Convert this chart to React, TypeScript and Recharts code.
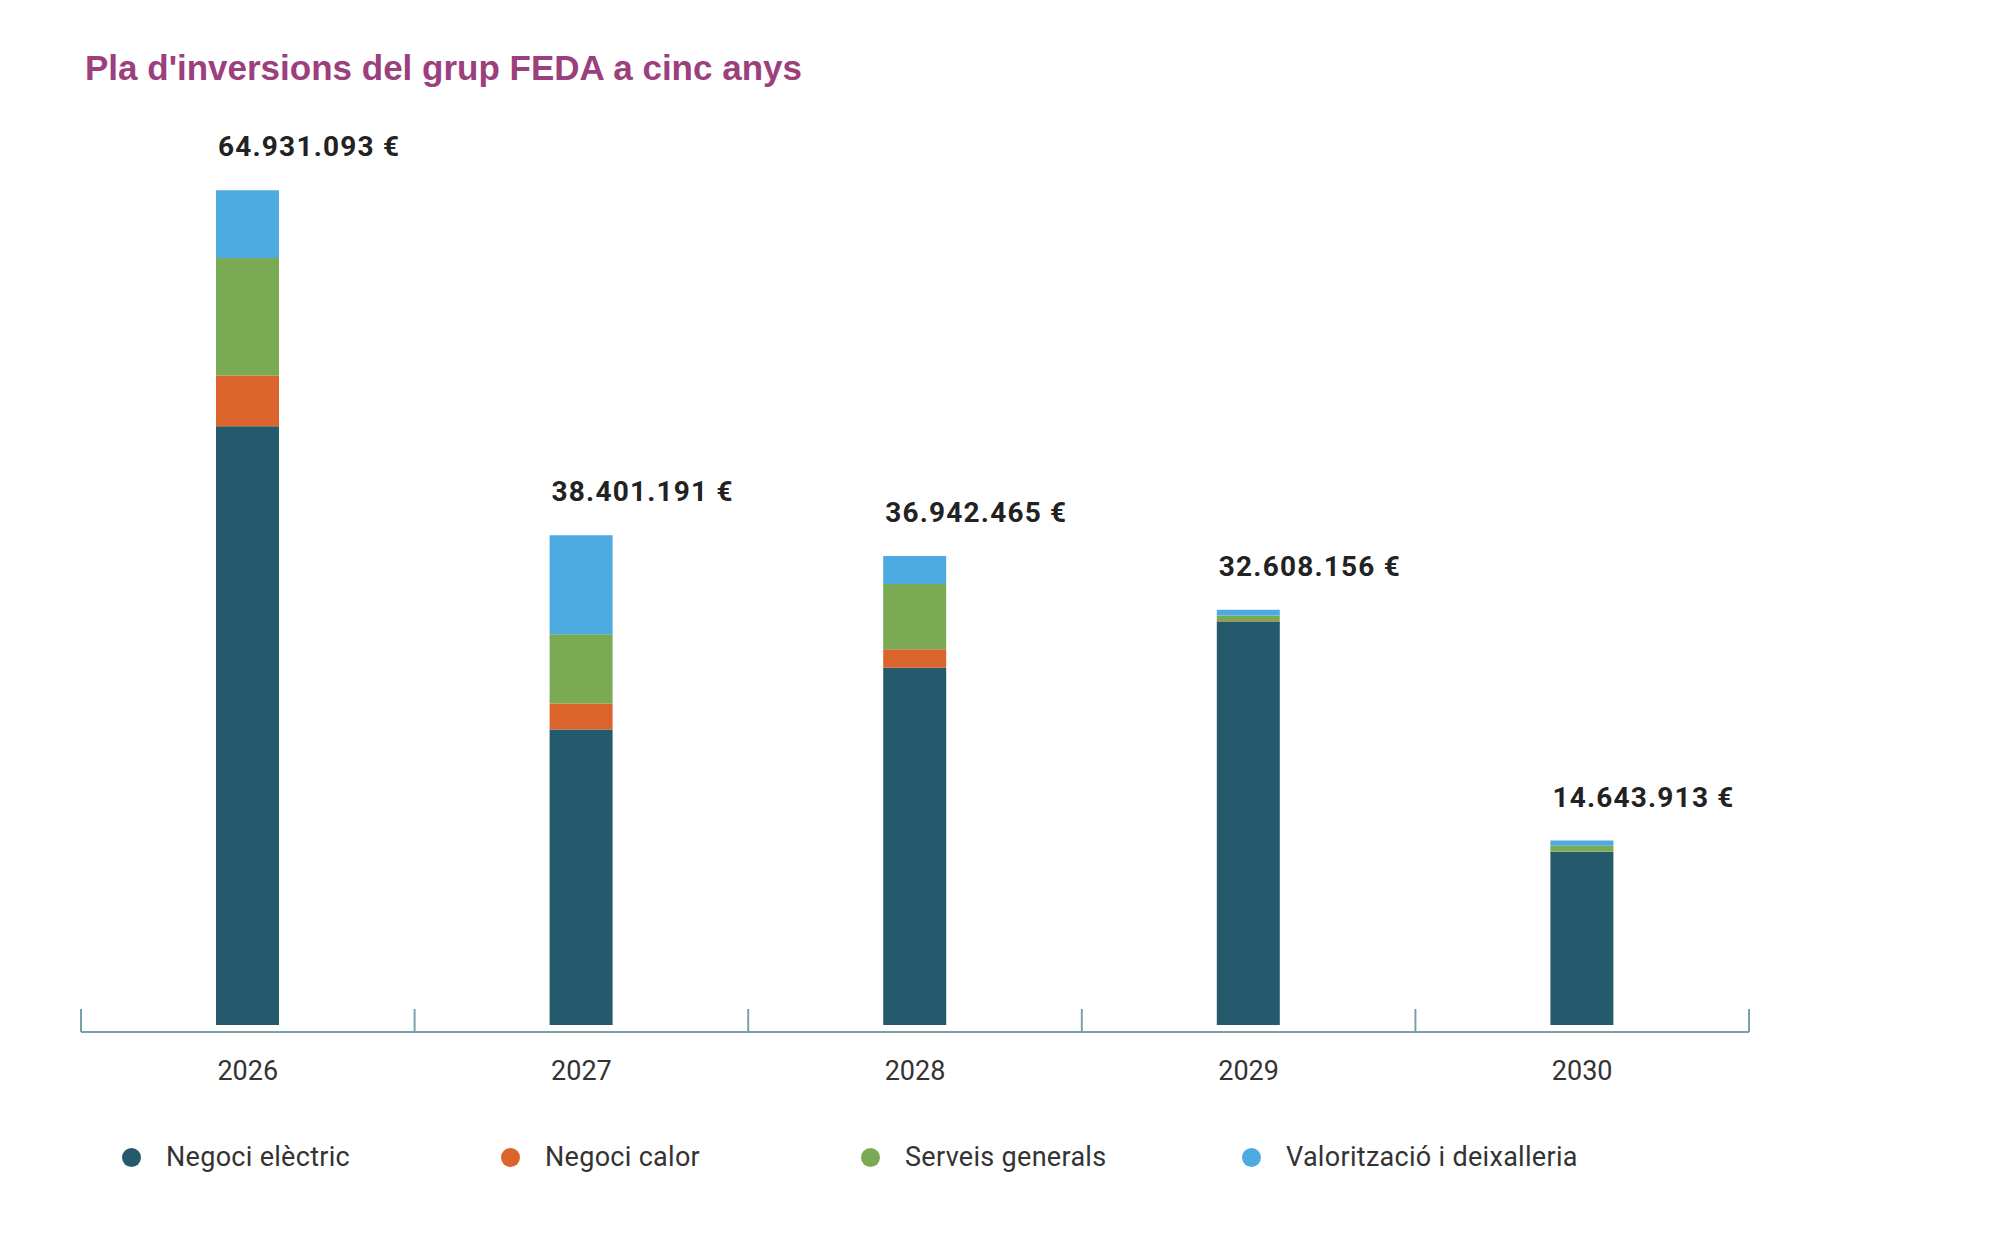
import React from "react";
import { BarChart, Bar, XAxis, YAxis, LabelList } from "recharts";

// milions d'euros, llegits de la imatge
const years = ["2026", "2027", "2028", "2029", "2030"];
const totals = ["64.931.093 €", "38.401.191 €", "36.942.465 €", "32.608.156 €", "14.643.913 €"];
const negociElectric = [47.09, 23.25, 28.09, 31.74, 13.62];
const negociCalor = [3.99, 2.04, 1.47, 0.03, 0.02];
const serveisGenerals = [9.25, 5.45, 5.13, 0.44, 0.45];
const valoritzacio = [5.32, 7.78, 2.2, 0.45, 0.42];

const seriesNames = ["Negoci elèctric", "Negoci calor", "Serveis generals", "Valorització i deixalleria"];
const seriesKeys = ["electric", "calor", "serveis", "valoritzacio"];
const seriesColors = ["#255a6d", "#da642b", "#7aaa54", "#4eabe1"];

const data = years.map((year, i) => ({
    year,
    total: totals[i],
    electric: negociElectric[i],
    calor: negociCalor[i],
    serveis: serveisGenerals[i],
    valoritzacio: valoritzacio[i],
}));

const W = 1992;
const H = 1238;
const MARGIN = { top: 135, right: 243, left: 81, bottom: 146 };
const X_AXIS_H = 60;
const PLOT_W = W - MARGIN.left - MARGIN.right;
const BAND = PLOT_W / years.length;
const AXIS_COLOR = "#7aa0ae";
const LEGEND_WIDTHS = [379, 360, 381, 400];

function YearTick(props: any) {
    const { x, y, payload, index } = props;
    const last = index === years.length - 1;
    return (
        <g>
            <line x1={x - BAND / 2} x2={x - BAND / 2} y1={y} y2={y - 23} stroke={AXIS_COLOR} strokeWidth={2} />
            {last && (
                <line x1={x + BAND / 2} x2={x + BAND / 2} y1={y} y2={y - 23} stroke={AXIS_COLOR} strokeWidth={2} />
            )}
            <text x={x} y={y + 48} textAnchor="middle" fill="#333" fontSize={27} fontFamily="Roboto">
                {payload.value}
            </text>
        </g>
    );
}

function TotalLabel(props: any) {
    const { x, y, value } = props;
    return (
        <text
            x={Number(x) + 2}
            y={Number(y) - 34}
            fill="#222"
            fontSize={28}
            fontWeight={700}
            fontFamily="Roboto"
            letterSpacing={1.2}
        >
            {value}
        </text>
    );
}

export default function App() {
    return (
        <div
            style={{
                position: "absolute",
                left: 0,
                top: 0,
                width: W,
                height: H,
                background: "#fff",
                fontFamily: "Roboto, sans-serif",
            }}
        >
            <div
                style={{
                    position: "absolute",
                    left: 85,
                    top: 50,
                    fontFamily: "'Liberation Sans', Arial, sans-serif",
                    fontWeight: 700,
                    fontSize: 35,
                    lineHeight: "35px",
                    color: "#9b3f7d",
                    whiteSpace: "nowrap",
                }}
            >
                Pla d'inversions del grup FEDA a cinc anys
            </div>

            <div style={{ position: "absolute", left: 0, top: 0 }}>
                <BarChart width={W} height={H} data={data} margin={MARGIN} barSize={63}>
                    <XAxis
                        dataKey="year"
                        height={X_AXIS_H}
                        axisLine={{ stroke: AXIS_COLOR, strokeWidth: 2 }}
                        tickLine={false}
                        tickSize={0}
                        tickMargin={0}
                        interval={0}
                        tick={<YearTick />}
                    />
                    <YAxis hide domain={[-0.55, 70]} />
                    {seriesKeys.map((key, i) => (
                        <Bar
                            key={key}
                            dataKey={key}
                            name={seriesNames[i]}
                            stackId="a"
                            fill={seriesColors[i]}
                            isAnimationActive={false}
                        >
                            {i === seriesKeys.length - 1 && (
                                <LabelList dataKey="total" content={<TotalLabel />} />
                            )}
                        </Bar>
                    ))}
                </BarChart>
            </div>

            <div
                style={{
                    position: "absolute",
                    left: 122,
                    top: 1142,
                    display: "flex",
                    height: 30,
                    alignItems: "center",
                }}
            >
                {seriesNames.map((name, i) => (
                    <div
                        key={name}
                        style={{ width: LEGEND_WIDTHS[i], display: "flex", alignItems: "center", height: 30 }}
                    >
                        <span
                            style={{
                                width: 19,
                                height: 19,
                                borderRadius: "50%",
                                background: seriesColors[i],
                                marginRight: 25,
                                flexShrink: 0,
                            }}
                        />
                        <span
                            style={{
                                fontSize: 27,
                                lineHeight: "30px",
                                color: "#333",
                                whiteSpace: "nowrap",
                                letterSpacing: 0.3,
                            }}
                        >
                            {name}
                        </span>
                    </div>
                ))}
            </div>
        </div>
    );
}
